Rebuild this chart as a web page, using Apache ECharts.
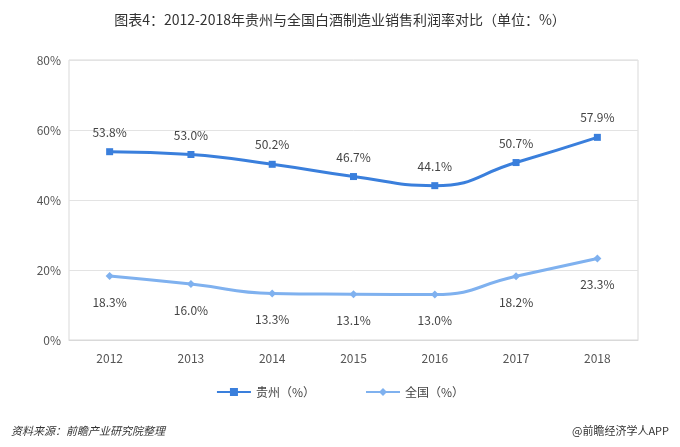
<!DOCTYPE html>
<html>
<head>
<meta charset="utf-8">
<script src="https://cdn.jsdelivr.net/npm/echarts@6/dist/echarts.min.js"></script>
<style>
  html, body { margin: 0; padding: 0; background: #fff; }
  #chart { width: 680px; height: 447px; }
</style>
</head>
<body>
<div id="chart"></div>
<script>
// 年份与两条利润率序列
const years = ['2012', '2013', '2014', '2015', '2016', '2017', '2018'];
const guizhou = [53.8, 53.0, 50.2, 46.7, 44.1, 50.7, 57.9];
const quanguo = [18.3, 16.0, 13.3, 13.1, 13.0, 18.2, 23.3];
const yTicks = [0, 20, 40, 60, 80];

const font = '"Noto Sans CJK SC", "Noto Sans", sans-serif';
const chart = echarts.init(document.getElementById('chart'));

chart.setOption({
  textStyle: { fontFamily: font },
  title: [
    {
      text: '图表4：2012-2018年贵州与全国白酒制造业销售利润率对比（单位：%）',
      left: 'center',
      top: 8,
      textStyle: { fontSize: 14, fontWeight: 'normal', color: '#333', fontFamily: font }
    },
    {
      text: '资料来源：前瞻产业研究院整理',
      left: 6,
      top: 420,
      textStyle: { fontSize: 11, fontStyle: 'italic', fontWeight: 'normal', color: '#333', fontFamily: font }
    },
    {
      text: '@前瞻经济学人APP',
      right: 6,
      top: 420,
      textStyle: { fontSize: 11, fontWeight: 'normal', color: '#333', fontFamily: font }
    }
  ],
  legend: {
    bottom: 44,
    left: 'center',
    itemGap: 50,
    itemWidth: 34,
    itemHeight: 10,
    textStyle: { fontSize: 12, color: '#444' },
    data: ['贵州（%）', '全国（%）']
  },
  grid: { left: 69, right: 42, top: 60, bottom: 107, show: true, borderColor: '#d9d9d9', borderWidth: 1 },
  xAxis: {
    type: 'category',
    data: years,
    axisLine: { lineStyle: { color: '#d9d9d9' } },
    axisTick: { show: false },
    axisLabel: { color: '#555', fontSize: 12, margin: 12 }
  },
  yAxis: {
    type: 'value',
    min: yTicks[0],
    max: yTicks[yTicks.length - 1],
    interval: 20,
    axisLine: { show: false },
    axisTick: { show: false },
    splitLine: { lineStyle: { color: '#e3e3e3' } },
    axisLabel: { color: '#555', fontSize: 12, formatter: '{value}%' }
  },
  series: [
    {
      name: '贵州（%）',
      type: 'line',
      smooth: true,
      data: guizhou,
      symbol: 'rect',
      symbolSize: 7,
      color: '#3a7fdc',
      lineStyle: { width: 3 },
      label: { show: true, position: 'top', distance: 10, formatter: p => p.value.toFixed(1) + '%', color: '#444', fontSize: 12 }
    },
    {
      name: '全国（%）',
      type: 'line',
      smooth: true,
      data: quanguo,
      symbol: 'diamond',
      symbolSize: 8,
      color: '#7fb1ef',
      lineStyle: { width: 3 },
      label: { show: true, position: 'bottom', distance: 16, formatter: p => p.value.toFixed(1) + '%', color: '#444', fontSize: 12 }
    }
  ]
});
</script>
</body>
</html>
